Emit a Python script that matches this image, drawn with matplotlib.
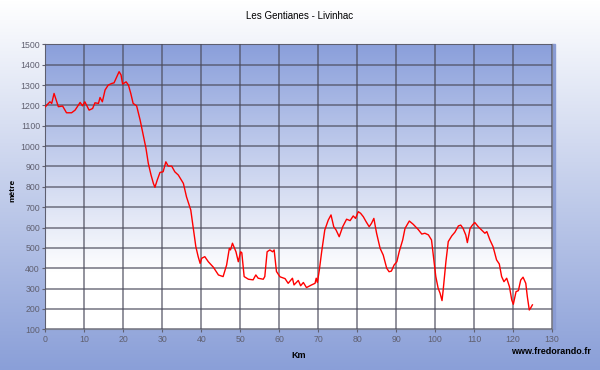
import numpy as np
import matplotlib
matplotlib.use("Agg")
import matplotlib.pyplot as plt
from matplotlib.colors import LinearSegmentedColormap

plt.rcParams['font.family'] = ['Liberation Sans', 'DejaVu Sans']

# profile: distance (km) and altitude (m)
km = [0, 0.5, 1.15, 1.6, 2.2, 2.7, 3.3, 4.4, 5.4, 6.7, 7.6, 8.9, 9.5, 10.1, 11.2,
      12.1, 12.7, 13.6, 14.0, 14.6, 15.3, 16.1, 17.0, 17.6, 17.9, 18.3, 18.9, 19.4,
      19.8, 20.7, 21.3, 21.9, 22.5, 23.4, 24.3, 25.1, 25.8, 26.4, 27.1, 27.7, 28.1,
      28.7, 29.4, 30.2, 30.9, 31.5, 32.4, 33.2, 34.1, 35.4, 36.2, 37.3, 37.9, 38.6,
      39.2, 39.7, 40.1, 40.9, 41.8, 43.1, 44.4, 45.6, 46.5, 47.2, 47.5, 48.0, 48.9,
      49.5, 50.1, 50.4, 51.0, 52.1, 53.3, 54.0, 54.6, 55.9, 56.3, 56.9, 57.6, 58.3,
      58.7, 59.3, 60.2, 61.5, 62.3, 63.4, 63.8, 64.9, 65.5, 66.2, 67.0, 68.3, 69.2,
      69.5, 69.8, 70.3, 70.9, 71.7, 72.6, 73.3, 74.0, 74.6, 75.4, 76.3, 77.3, 78.2,
      79.0, 79.6, 80.3, 80.9, 81.6, 82.3, 83.1, 83.7, 84.3, 85.0, 85.9, 86.7, 87.6,
      88.2, 88.8, 89.5, 90.2, 90.8, 91.7, 92.3, 93.4, 94.4, 95.7, 96.6, 97.4, 98.3,
      99.1, 99.5, 100.2, 100.8, 101.3, 101.8, 102.1, 102.8, 103.4, 104.3, 105.1,
      106.0, 106.6, 107.2, 107.9, 108.3, 109.0, 109.6, 110.2, 111.1, 112.0, 112.8,
      113.3, 114.1, 114.9, 115.8, 116.5, 117.1, 117.7, 118.4, 119.1, 119.7, 120.1,
      120.8, 121.4, 122.0, 122.6, 123.3, 123.7, 124.2, 124.5, 125.0]
alt = [1194, 1205, 1218, 1210, 1259, 1230, 1194, 1197, 1164, 1164, 1177, 1215, 1198,
       1218, 1177, 1185, 1213, 1210, 1239, 1218, 1276, 1300, 1308, 1311, 1324, 1341,
       1366, 1350, 1305, 1316, 1300, 1259, 1210, 1198, 1128, 1055, 989, 915, 858, 817,
       798, 834, 871, 874, 923, 902, 902, 874, 858, 817, 751, 686, 604, 506, 457, 424,
       449, 457, 432, 405, 367, 359, 416, 498, 490, 523, 481, 432, 481, 476, 359, 346,
       343, 367, 351, 346, 359, 481, 490, 481, 490, 384, 358, 349, 326, 351, 318, 340,
       314, 330, 305, 318, 326, 351, 330, 391, 481, 588, 637, 662, 604, 588, 555, 604,
       641, 634, 657, 645, 678, 670, 653, 629, 604, 621, 645, 572, 498, 465, 400, 383,
       386, 416, 432, 481, 539, 596, 632, 616, 590, 568, 572, 564, 539, 474, 359, 302,
       277, 241, 294, 433, 531, 559, 577, 608, 612, 596, 563, 526, 596, 612, 625, 604,
       587, 572, 580, 539, 506, 441, 421, 359, 334, 351, 310, 244, 223, 285, 290, 342,
       356, 326, 260, 195, 203, 220]

x_ticks = list(range(0, 131, 10))
y_ticks = list(range(100, 1501, 100))

fig = plt.figure(figsize=(6, 3.7), dpi=100)

# page background: white at top fading to blue at the bottom
bg = fig.add_axes([0, 0, 1, 1], zorder=-2)
page_cmap = LinearSegmentedColormap.from_list("page", ["#8a9fd8", "#ffffff"])
bg.imshow(np.linspace(0, 1, 256).reshape(-1, 1), cmap=page_cmap, aspect="auto",
          origin="lower", extent=[0, 1, 0, 1])
bg.axis("off")

ax = fig.add_axes([0.0758, 0.110, 0.844, 0.770])
plot_cmap = LinearSegmentedColormap.from_list(
    "plot", [(0, "#ffffff"), (0.2, "#ffffff"), (1, "#8a9fdb")])
ax.imshow(np.linspace(0, 1, 256).reshape(-1, 1), cmap=plot_cmap, aspect="auto",
          origin="lower", extent=[0, 130, 100, 1500], zorder=0)

ax.plot(km, alt, color="#ff0000", linewidth=1.0, zorder=3)

ax.set_xlim(0, 130)
ax.set_ylim(100, 1500)
ax.set_xticks(x_ticks)
ax.set_yticks(y_ticks)
ax.grid(True, color="#4a4a5a", linewidth=1.2, alpha=0.7, zorder=1)
ax.set_axisbelow(False)
ax.tick_params(labelsize=6.3, colors="#606070", length=2, width=0.8, pad=2)
for s in ax.spines.values():
    s.set_color("#7a7f90")
    s.set_linewidth(0.8)

# shadow along the right edge of the plot
fig.patches.append(plt.Rectangle((0.9198, 0.110), 0.006, 0.770, transform=fig.transFigure,
                                 color="#8a9cd4", zorder=-1))

fig.text(0.5, 0.958, "Les Gentianes - Livinhac", ha="center", va="center", fontsize=7)
fig.text(0.022, 0.485, "mètre", rotation=90, ha="center", va="center", fontsize=6,
         fontweight="bold")
fig.text(0.497, 0.04, "Km", ha="center", va="center", fontsize=6.5, fontweight="bold")
fig.text(0.985, 0.05, "www.fredorando.fr", ha="right", va="center", fontsize=6.5,
         fontweight="bold")

fig.savefig("out.png", dpi=100)
